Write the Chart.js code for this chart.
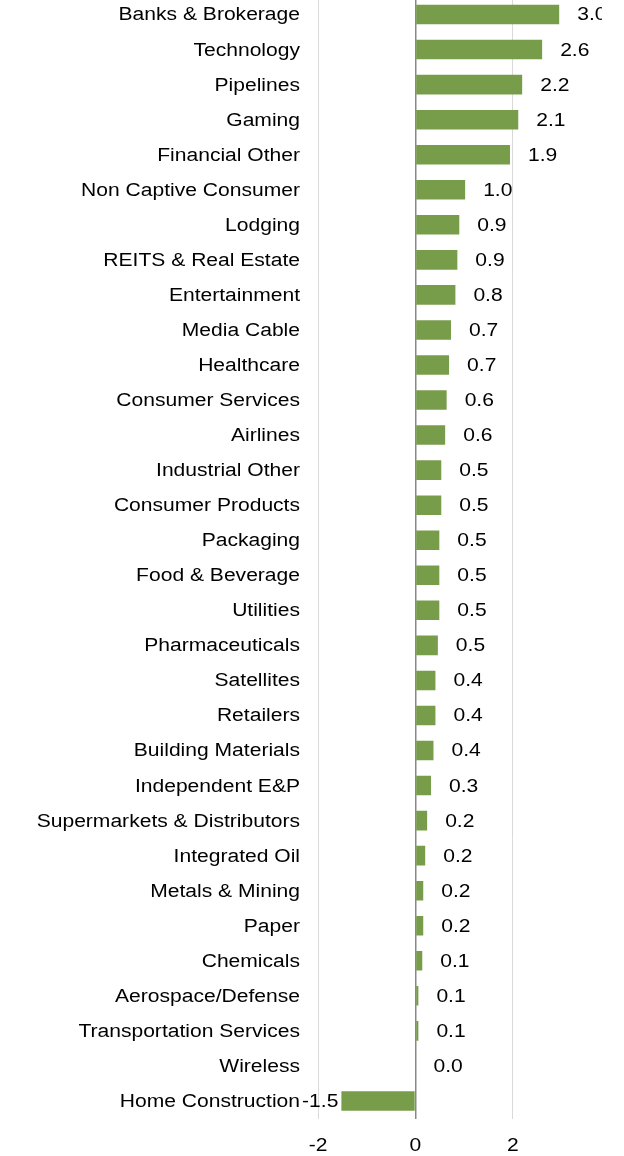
<!DOCTYPE html>
<html>
<head>
<meta charset="utf-8">
<script src="https://cdn.jsdelivr.net/npm/chart.js@4/dist/chart.umd.min.js"></script>
<style>
  html, body { margin: 0; padding: 0; background: #fff; overflow: hidden; }
  #wrap { position: absolute; left: 0; top: -3px; width: 624px; height: 1160px; }
</style>
</head>
<body>
<div id="wrap"><canvas id="sectorChart" width="624" height="1160"></canvas></div>
<script>
// Sectores y valores
const sectors = [
  'Banks & Brokerage', 'Technology', 'Pipelines', 'Gaming', 'Financial Other',
  'Non Captive Consumer', 'Lodging', 'REITS & Real Estate', 'Entertainment', 'Media Cable',
  'Healthcare', 'Consumer Services', 'Airlines', 'Industrial Other', 'Consumer Products',
  'Packaging', 'Food & Beverage', 'Utilities', 'Pharmaceuticals', 'Satellites',
  'Retailers', 'Building Materials', 'Independent E&P', 'Supermarkets & Distributors', 'Integrated Oil',
  'Metals & Mining', 'Paper', 'Chemicals', 'Aerospace/Defense', 'Transportation Services',
  'Wireless', 'Home Construction'
];
const sectorValues = [
  2.95, 2.60, 2.19, 2.11, 1.94,
  1.02, 0.90, 0.86, 0.82, 0.73,
  0.69, 0.64, 0.61, 0.53, 0.53,
  0.49, 0.49, 0.49, 0.46, 0.41,
  0.41, 0.37, 0.32, 0.24, 0.20,
  0.16, 0.16, 0.14, 0.06, 0.06,
  0.00, -1.52
];
const xTicks = [-2, 0, 2];

const FONT = { family: "'Liberation Sans', Arial, sans-serif", size: 18 };
const STRETCH = 1.17; // texto ensanchado horizontalmente
const CLIP_RIGHT = 602; // borde derecho del área visible

function stretchedText(ctx, txt, x, y, align) {
  ctx.save();
  ctx.translate(x, y);
  ctx.scale(STRETCH, 1);
  ctx.textAlign = align;
  ctx.fillText(txt, 0, 0);
  ctx.restore();
}

// Textos del gráfico: categorías, ticks del eje X y valores de cada barra
const chartText = {
  id: 'chartText',
  afterDatasetsDraw(chart) {
    const ctx = chart.ctx;
    const meta = chart.getDatasetMeta(0);
    const xs = chart.scales.x;
    const area = chart.chartArea;
    ctx.save();
    ctx.beginPath();
    ctx.rect(0, 0, CLIP_RIGHT, chart.height);
    ctx.clip();
    ctx.font = `${FONT.size}px ${FONT.family}`;
    ctx.fillStyle = '#000';
    ctx.textBaseline = 'middle';
    meta.data.forEach((bar, i) => {
      stretchedText(ctx, sectors[i], area.left - 18, bar.y + 1, 'right');
      const v = sectorValues[i];
      const txt = v.toFixed(1);
      if (v >= 0) {
        stretchedText(ctx, txt, bar.x + 18, bar.y + 1, 'left');
      } else {
        stretchedText(ctx, txt, bar.x - 3, bar.y + 1, 'right');
      }
    });
    xTicks.forEach(t => {
      stretchedText(ctx, String(t), xs.getPixelForValue(t), area.bottom + 28, 'center');
    });
    ctx.restore();
  }
};

new Chart(document.getElementById('sectorChart').getContext('2d'), {
  type: 'bar',
  data: {
    labels: sectors,
    datasets: [{
      data: sectorValues,
      backgroundColor: '#789d4a',
      borderWidth: 0,
      barPercentage: 0.9,
      categoryPercentage: 0.62
    }]
  },
  options: {
    indexAxis: 'y',
    responsive: false,
    animation: false,
    devicePixelRatio: 1,
    layout: { padding: 0 },
    plugins: {
      legend: { display: false },
      tooltip: { enabled: false }
    },
    scales: {
      x: {
        min: -2,
        max: 4.28,
        afterBuildTicks(scale) {
          scale.ticks = xTicks.map(v => ({ value: v }));
        },
        afterFit(scale) { scale.height = 38.5; },
        border: { display: false },
        grid: {
          drawTicks: false,
          color: c => (c.tick && c.tick.value === 0) ? '#888888' : '#d9d9d9',
          lineWidth: c => (c.tick && c.tick.value === 0) ? 1.5 : 1
        },
        ticks: { display: false }
      },
      y: {
        afterFit(scale) { scale.width = 318; },
        border: { display: false },
        grid: { display: false, drawTicks: false },
        ticks: { display: false, autoSkip: false }
      }
    }
  },
  plugins: [chartText]
});
</script>
</body>
</html>
